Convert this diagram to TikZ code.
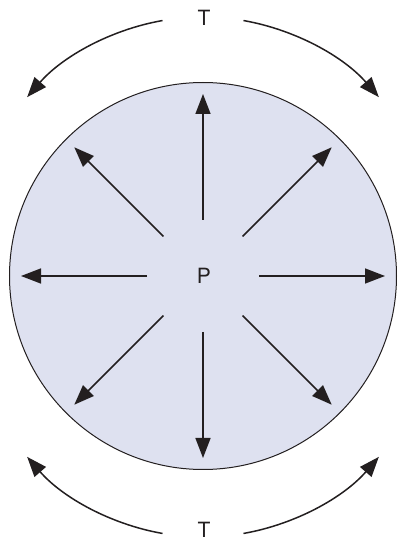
\documentclass[tikz,border=0pt]{standalone}
\usepackage{fontspec}
\setmainfont{TeX Gyre Heros}
\usetikzlibrary{arrows.meta, calc}
\definecolor{figFill}{RGB}{222,225,240}
\definecolor{figK}{RGB}{35,31,32}
\tikzset{flow/.style={-{Triangle[length=20pt, width=15pt]}, line width=1.5pt, figK},
  lbl/.style={font=\fontsize{21}{25}\selectfont, text=figK, inner sep=0pt}}

\begin{document}
\begin{tikzpicture}[x=1pt, y=1pt]
\useasboundingbox (0,0) rectangle (399,542);
% ===== body with pressure P =====
\draw[fill=figFill, draw=figK, line width=1pt] (203,266) circle (193.5);
\node[lbl] (P) at (204,266) {P};
% radial arrows from the centre
\foreach \ang in {0,45,90,135,180,225,270,315}{
  \coordinate (s\ang) at ($(203,266)+(\ang:56)$);
  \coordinate (e\ang) at ($(203,266)+(\ang:182)$);
  \draw[flow] (s\ang) -- (e\ang);
}
% ===== tension T, top and bottom =====
\node[lbl] (Ttop) at (204,524) {T};
\node[lbl] (Tbot) at (204,12) {T};
\coordinate (ctop) at (203,292);
\coordinate (cbot) at (203,238);
\coordinate (tl) at ($(ctop)+(100:233)$);
\coordinate (tr) at ($(ctop)+(80:233)$);
\coordinate (bl) at ($(cbot)+(-100:233)$);
\coordinate (br) at ($(cbot)+(-80:233)$);
\draw[flow] (tl) arc[start angle=100, end angle=139, radius=233];
\draw[flow] (tr) arc[start angle=80, end angle=41, radius=233];
\draw[flow] (bl) arc[start angle=-100, end angle=-139, radius=233];
\draw[flow] (br) arc[start angle=-80, end angle=-41, radius=233];
\end{tikzpicture}
\end{document}
